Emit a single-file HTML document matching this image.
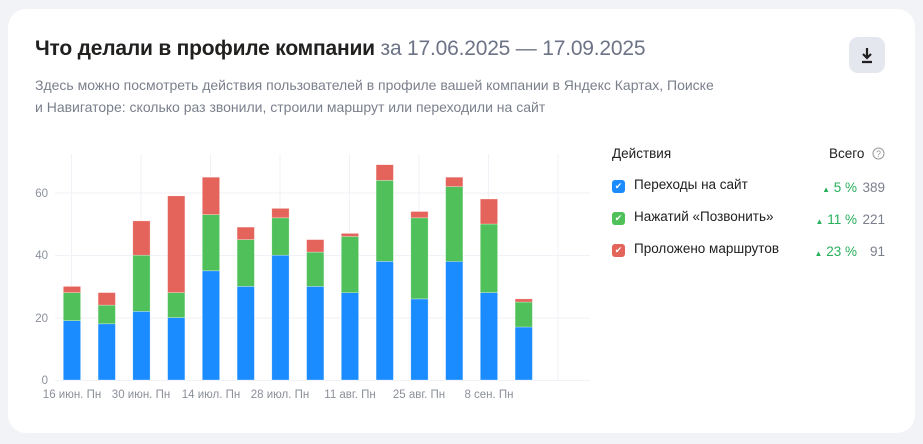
<!DOCTYPE html><html><head><meta charset="utf-8"><style>
body{margin:0;width:923px;height:444px;background:#f2f3f6;font-family:"Liberation Sans",sans-serif;overflow:hidden}
.card{position:absolute;left:8px;top:9px;width:907px;height:424px;background:#fff;border-radius:18px}
.t{position:absolute;left:35px;top:37px;font-size:21px;font-weight:bold;color:#21201f;letter-spacing:-0.2px}
.t span{color:#6d7386;font-weight:normal}
.s{position:absolute;left:35px;top:74px;font-size:14px;line-height:22px;color:#7a7f8c;width:685px}
.btn{position:absolute;left:849px;top:37px;width:36px;height:36px;background:#e5e7ee;border-radius:9px}
.lg{position:absolute;font-size:13.5px;color:#21201f}
.cb{position:absolute;left:612px;width:13px;height:13px;border-radius:3px;color:#fff;font-size:9px;text-align:center;line-height:13px}
.p{position:absolute;right:66px;font-size:13.5px;color:#27b05b;text-align:right}
.n{position:absolute;right:38px;font-size:13.5px;color:#7a7f8c;text-align:right}
</style></head><body><div class="card"></div>
<div class="t">Что делали в профиле компании <span>за 17.06.2025 — 17.09.2025</span></div>
<div class="s">Здесь можно посмотреть действия пользователей в профиле вашей компании в Яндекс Картах, Поиске и Навигаторе: сколько раз звонили, строили маршрут или переходили на сайт</div>
<div class="btn"><svg width="36" height="36"><path d="M18 11v10M14 17l4 4 4-4M13 25h10" stroke="#21201f" stroke-width="2.2" fill="none"/></svg></div>
<div class="lg" style="left:612px;top:146px">Действия</div>
<div class="lg" style="left:829px;top:146px">Всего</div>
<svg style="position:absolute;left:872px;top:147px" width="13" height="13"><circle cx="6.5" cy="6.5" r="5.5" fill="none" stroke="#999" stroke-width="1"/><text x="6.5" y="10" font-size="9" text-anchor="middle" fill="#999" font-family="Liberation Sans">?</text></svg>
<div class="cb" style="top:180px;background:#1a8cff">✔</div><div class="lg" style="left:634px;top:177px">Переходы на сайт</div><div class="p" style="top:180px"><small style="font-size:8px">▲</small> 5 %</div><div class="n" style="top:180px">389</div>
<div class="cb" style="top:212px;background:#4fc05a">✔</div><div class="lg" style="left:634px;top:209px">Нажатий «Позвонить»</div><div class="p" style="top:212px"><small style="font-size:8px">▲</small> 11 %</div><div class="n" style="top:212px">221</div>
<div class="cb" style="top:244px;background:#e4635a">✔</div><div class="lg" style="left:634px;top:241px">Проложено маршрутов</div><div class="p" style="top:244px"><small style="font-size:8px">▲</small> 23 %</div><div class="n" style="top:244px">91</div>
<svg style="position:absolute;left:0;top:0" width="923" height="444" font-family="Liberation Sans" font-size="11.5" fill="#8a8f99">
<g stroke="#f0f2f7" stroke-width="1">
<line x1="55" x2="590" y1="193" y2="193"/><line x1="55" x2="590" y1="255.5" y2="255.5"/><line x1="55" x2="590" y1="318" y2="318"/><line x1="55" x2="590" y1="380.5" y2="380.5"/>
<line x1="71.5" x2="71.5" y1="154" y2="380"/><line x1="141" x2="141" y1="154" y2="380"/><line x1="210.5" x2="210.5" y1="154" y2="380"/><line x1="280" x2="280" y1="154" y2="380"/><line x1="349.5" x2="349.5" y1="154" y2="380"/><line x1="419" x2="419" y1="154" y2="380"/><line x1="488.5" x2="488.5" y1="154" y2="380"/><line x1="558" x2="558" y1="154" y2="380"/>
</g>
<g text-anchor="end"><text x="48" y="197">60</text><text x="48" y="259">40</text><text x="48" y="322">20</text><text x="48" y="384">0</text></g>
<g stroke="#fff" stroke-opacity="0.5" stroke-width="0.6">
<g fill="#1a8cff">
<rect x="63.3" y="320.7" width="17.3" height="59.3"/><rect x="98.1" y="323.8" width="17.3" height="56.2"/><rect x="132.8" y="311.4" width="17.3" height="68.6"/><rect x="167.6" y="317.6" width="17.3" height="62.4"/><rect x="202.3" y="270.8" width="17.3" height="109.2"/><rect x="237.1" y="286.4" width="17.3" height="93.6"/><rect x="271.8" y="255.2" width="17.3" height="124.8"/><rect x="306.6" y="286.4" width="17.3" height="93.6"/><rect x="341.3" y="292.6" width="17.3" height="87.4"/><rect x="376.1" y="261.4" width="17.3" height="118.6"/><rect x="410.8" y="298.9" width="17.3" height="81.1"/><rect x="445.6" y="261.4" width="17.3" height="118.6"/><rect x="480.3" y="292.6" width="17.3" height="87.4"/><rect x="515.1" y="327" width="17.3" height="53"/>
</g>
<g fill="#4fc05a">
<rect x="63.3" y="292.6" width="17.3" height="28.1"/><rect x="98.1" y="305.1" width="17.3" height="18.7"/><rect x="132.8" y="255.2" width="17.3" height="56.2"/><rect x="167.6" y="292.6" width="17.3" height="25"/><rect x="202.3" y="214.6" width="17.3" height="56.2"/><rect x="237.1" y="239.6" width="17.3" height="46.8"/><rect x="271.8" y="217.8" width="17.3" height="37.4"/><rect x="306.6" y="252.1" width="17.3" height="34.3"/><rect x="341.3" y="236.5" width="17.3" height="56.2"/><rect x="376.1" y="180.3" width="17.3" height="81.1"/><rect x="410.8" y="217.8" width="17.3" height="81.1"/><rect x="445.6" y="186.6" width="17.3" height="74.9"/><rect x="480.3" y="224" width="17.3" height="68.6"/><rect x="515.1" y="302" width="17.3" height="25"/>
</g>
<g fill="#e4635a">
<rect x="63.3" y="286.4" width="17.3" height="6.2"/><rect x="98.1" y="292.6" width="17.3" height="12.5"/><rect x="132.8" y="220.9" width="17.3" height="34.3"/><rect x="167.6" y="195.9" width="17.3" height="96.7"/><rect x="202.3" y="177.2" width="17.3" height="37.4"/><rect x="237.1" y="227.1" width="17.3" height="12.5"/><rect x="271.8" y="208.4" width="17.3" height="9.4"/><rect x="306.6" y="239.6" width="17.3" height="12.5"/><rect x="341.3" y="233.4" width="17.3" height="3.1"/><rect x="376.1" y="164.7" width="17.3" height="15.6"/><rect x="410.8" y="211.5" width="17.3" height="6.3"/><rect x="445.6" y="177.2" width="17.3" height="9.4"/><rect x="480.3" y="199" width="17.3" height="25"/><rect x="515.1" y="298.9" width="17.3" height="3.1"/>
</g>
</g>
<g text-anchor="middle"><text x="72" y="398">16 июн. Пн</text><text x="141" y="398">30 июн. Пн</text><text x="211" y="398">14 июл. Пн</text><text x="280" y="398">28 июл. Пн</text><text x="350" y="398">11 авг. Пн</text><text x="419" y="398">25 авг. Пн</text><text x="489" y="398">8 сен. Пн</text></g>
</svg>
</body></html>
